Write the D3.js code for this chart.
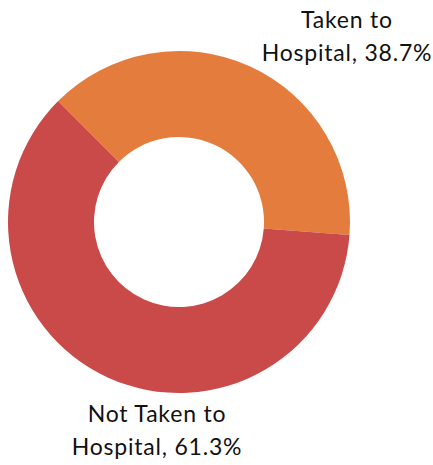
<!DOCTYPE html>
<html>
<head>
<meta charset="utf-8">
<script src="https://cdn.jsdelivr.net/npm/d3@7"></script>
<style>
  body{margin:0;background:#fff;}
  svg{display:block;}
  text{font-family:Lato,"Open Sans",sans-serif;fill:#111;}
</style>
</head>
<body>
<svg></svg>
<script>
var categories=["Taken to Hospital","Not Taken to Hospital"];
var values=[38.7,61.3];
var colors=["#e47c3d","#c94a49"];
var labelLines=[["Taken to","Hospital, 38.7%"],["Not Taken to","Hospital, 61.3%"]];

var width=433, height=465;
var cx=179, cy=222, outerR=171, innerR=85;

var svg=d3.select("svg").attr("width",width).attr("height",height);

var pie=d3.pie().sort(null).value(function(d){return d;})
  .startAngle(-Math.PI/4).endAngle(-Math.PI/4+2*Math.PI);
var arc=d3.arc().innerRadius(innerR).outerRadius(outerR);

var g=svg.append("g").attr("transform","translate("+cx+","+cy+")");
g.selectAll("path")
  .data(pie(values))
  .enter()
  .append("path")
  .attr("d",arc)
  .attr("fill",function(d,i){return colors[i];});

// label anchor spots, outside the ring
var labelPos=[{x:347,y:28},{x:157,y:422}];
labelLines.forEach(function(lines,i){
  var t=svg.append("text")
    .attr("text-anchor","middle")
    .attr("font-size",23)
    .attr("letter-spacing",0.8);
  lines.forEach(function(l,j){
    t.append("tspan")
      .attr("x",labelPos[i].x)
      .attr("y",labelPos[i].y+j*33)
      .text(l);
  });
});
</script>
</body>
</html>
